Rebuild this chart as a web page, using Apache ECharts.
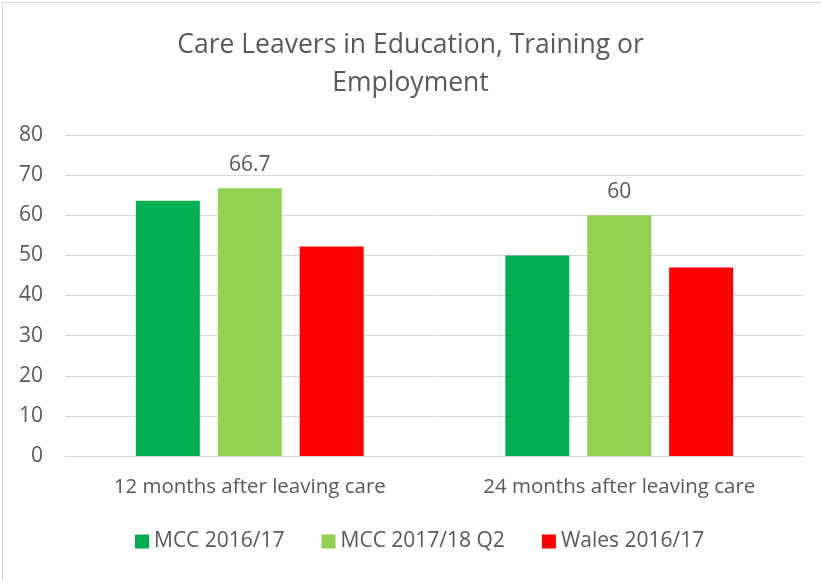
<!DOCTYPE html>
<html>
<head>
<meta charset="utf-8">
<script src="https://cdn.jsdelivr.net/npm/echarts@6/dist/echarts.min.js"></script>
<style>
html,body{margin:0;padding:0;background:#fff;}
#c{width:821px;height:581px;box-sizing:border-box;}
</style>
</head>
<body>
<div id="c"></div>
<script>
const categories = ['12 months after leaving care', '24 months after leaving care'];
const seriesNames = ['MCC 2016/17', 'MCC 2017/18 Q2', 'Wales 2016/17'];
const mcc1617 = [63.6, 50];
const mcc1718q2 = [66.7, 60];
const wales1617 = [52.2, 47.0];
const yTicks = [0, 10, 20, 30, 40, 50, 60, 70, 80];
const colors = ['#00B050', '#92D050', '#FF0000'];
const font = 'Open Sans';
const txt = '#595959';

const chart = echarts.init(document.getElementById('c'));
chart.setOption({
  animation: false,
  textStyle: {fontFamily: font},
  title: {
    text: 'Care Leavers in Education, Training or\nEmployment',
    left: 'center', top: 21,
    textStyle: {fontFamily: font, fontSize: 26.5, fontWeight: 'normal', color: txt, lineHeight: 38}
  },
  graphic: [{
    type: 'rect', left: 0, top: 0,
    shape: {x: 0.5, y: 0.5, width: 819, height: 579},
    style: {fill: 'none', stroke: '#d9d9d9', lineWidth: 1}
  }],
  legend: {
    top: 526, left: 130,
    itemWidth: 14, itemHeight: 14, itemGap: 37, itemTextGap: 6,
    icon: 'rect',
    textStyle: {fontFamily: font, fontSize: 21, color: txt},
    data: seriesNames
  },
  grid: {left: 65, right: 17, top: 135, bottom: 125, containLabel: false},
  xAxis: {
    type: 'category', data: categories,
    axisLine: {lineStyle: {color: '#d9d9d9'}},
    axisTick: {show: false},
    axisLabel: {fontFamily: font, fontSize: 20.5, color: txt, margin: 21}
  },
  yAxis: {
    type: 'value', min: yTicks[0], max: yTicks[yTicks.length - 1], interval: 10,
    axisLine: {show: false}, axisTick: {show: false},
    splitLine: {lineStyle: {color: '#d9d9d9', width: 1}},
    axisLabel: {fontFamily: font, fontSize: 21, color: txt, margin: 22}
  },
  series: [
    {name: seriesNames[0], type: 'bar', data: mcc1617, barWidth: 64, barGap: '28%', itemStyle: {color: colors[0]}},
    {name: seriesNames[1], type: 'bar', data: mcc1718q2, barWidth: 64, barGap: '28%', itemStyle: {color: colors[1]},
     label: {show: true, position: 'top', distance: 13, fontFamily: font, fontSize: 21, color: txt}},
    {name: seriesNames[2], type: 'bar', data: wales1617, barWidth: 64, barGap: '28%', itemStyle: {color: colors[2]}}
  ]
});
</script>
</body>
</html>
